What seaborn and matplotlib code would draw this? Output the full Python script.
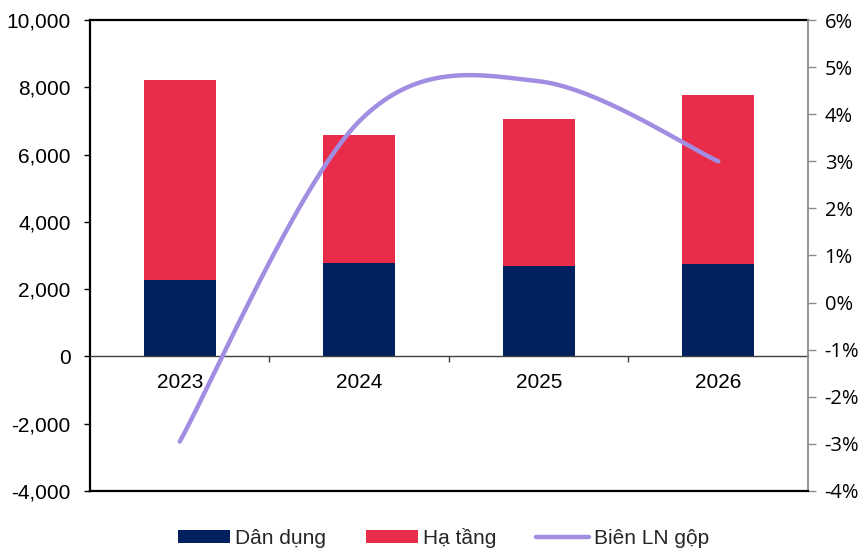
import numpy as np
import pandas as pd
import matplotlib
matplotlib.use("Agg")
import matplotlib.pyplot as plt
import seaborn as sns
from matplotlib.patches import Patch
from matplotlib.lines import Line2D
from matplotlib.ticker import FuncFormatter

# ---- data -------------------------------------------------------------
years = ["2023", "2024", "2025", "2026"]
dan_dung = [2260, 2790, 2680, 2760]        # civil construction revenue
ha_tang = [5960, 3780, 4370, 5000]         # infrastructure revenue
bien_ln_gop = [-2.95, 3.85, 4.7, 3.0]      # gross margin, %

left_ticks = [-4000, -2000, 0, 2000, 4000, 6000, 8000, 10000]
right_ticks = [-4, -3, -2, -1, 0, 1, 2, 3, 4, 5, 6]

NAVY = "#002060"
RED = "#EA2C4B"
LAVENDER = "#A18DE1"

sns.set_style("white")
plt.rcParams["font.family"] = ["Liberation Sans", "DejaVu Sans"]
plt.rcParams["axes.unicode_minus"] = False

fig = plt.figure(figsize=(8.62, 5.5), dpi=100)
W, H = 862, 550
ax = fig.add_axes([90 / W, 1 - 491 / H, 718 / W, 471 / H])

df = pd.DataFrame({"year": years, "dan_dung": dan_dung, "ha_tang": ha_tang})
df["total"] = df["dan_dung"] + df["ha_tang"]

# stacked bars: full height in red, lower segment in navy on top
sns.barplot(data=df, x="year", y="total", color=RED, width=0.4,
            saturation=1, errorbar=None, ax=ax, linewidth=0)
sns.barplot(data=df, x="year", y="dan_dung", color=NAVY, width=0.4,
            saturation=1, errorbar=None, ax=ax, linewidth=0)

ax.set_xlim(-0.5, 3.5)
ax.set_ylim(-4000, 10000)
ax.set_xlabel("")
ax.set_ylabel("")
ax.set_yticks(left_ticks)
ax.yaxis.set_major_formatter(FuncFormatter(lambda v, _: f"{v:,.0f}"))

ax.spines["bottom"].set_position(("data", 0))
ax.spines["bottom"].set_color("#404040")
ax.spines["bottom"].set_linewidth(1.0)
for s in ("left", "top"):
    ax.spines[s].set_color("black")
    ax.spines[s].set_linewidth(1.6)
ax.spines["right"].set_visible(False)

ax.set_xticks([0, 1, 2, 3])
ax.set_xticklabels(years)
ax.set_xticks([0.5, 1.5, 2.5], minor=True)
ax.tick_params(axis="x", which="major", bottom=True, length=0, pad=12,
               labelsize=15, labelcolor="black")
ax.tick_params(axis="x", which="minor", bottom=True, length=4, width=1,
               color="#404040", direction="out")
ax.tick_params(axis="y", left=True, length=4.3, width=1, color="black",
               direction="out", pad=9.5, labelsize=15, labelcolor="black")

# ---- secondary axis: gross margin line ------------------------------
ax2 = ax.twinx()
ax2.set_ylim(-4, 6)
ax2.set_xlim(-0.5, 3.5)


def smooth_curve(axis, xs, ys, n=80):
    """Catmull-Rom style Bezier smoothing computed in screen space."""
    P = axis.transData.transform(np.column_stack([xs, ys]))
    out = [P[0]]
    for i in range(len(P) - 1):
        p0 = P[i - 1] if i > 0 else P[i]
        p1, p2 = P[i], P[i + 1]
        p3 = P[i + 2] if i + 2 < len(P) else P[i + 1]
        c1 = p1 + (p2 - p0) / 6
        c2 = p2 - (p3 - p1) / 6
        t = np.linspace(0, 1, n)[1:, None]
        seg = ((1 - t) ** 3) * p1 + 3 * ((1 - t) ** 2) * t * c1 \
            + 3 * (1 - t) * t ** 2 * c2 + t ** 3 * p2
        out.extend(seg)
    out = axis.transData.inverted().transform(np.array(out))
    return out[:, 0], out[:, 1]


cx, cy = smooth_curve(ax2, np.arange(len(years)), bien_ln_gop)
curve = pd.DataFrame({"x": cx, "y": cy})
sns.lineplot(data=curve, x="x", y="y", sort=False, estimator=None,
             color=LAVENDER, linewidth=3.2, ax=ax2,
             solid_capstyle="round")
ax2.set_xlim(-0.5, 3.5)
ax2.set_ylim(-4, 6)
ax2.set_xlabel("")
ax2.set_ylabel("")
ax2.set_yticks(right_ticks)
ax2.yaxis.set_major_formatter(FuncFormatter(lambda v, _: f"{v:.0f}%"))
ax2.tick_params(axis="y", right=True, left=False, length=6, width=1,
                color="#8C8C8C", direction="out", pad=6, labelsize=14.5,
                labelcolor="black", labelfontfamily="Open Sans")
ax2.tick_params(axis="x", which="both", bottom=False, top=False,
                labelbottom=False)
ax2.spines["right"].set_color("#8C8C8C")
ax2.spines["right"].set_linewidth(1.3)
ax2.spines["left"].set_visible(False)
ax2.spines["top"].set_visible(False)
ax2.spines["bottom"].set_color("black")
ax2.spines["bottom"].set_linewidth(1.6)

# ---- legend -----------------------------------------------------------
handles = [
    Patch(facecolor=NAVY, edgecolor="none"),
    Patch(facecolor=RED, edgecolor="none"),
    Line2D([0], [0], color=LAVENDER, linewidth=3.2),
]
labels = ["Dân dụng", "Hạ tầng", "Biên LN gộp"]
fig.legend(handles, labels, loc="center",
           bbox_to_anchor=(443.5 / W, 1 - 538 / H),
           ncol=3, frameon=False, fontsize=15, handlelength=2.5,
           handleheight=0.55, handletextpad=0.26, columnspacing=1.9,
           borderpad=0)

fig.savefig("out.png", dpi=100)
